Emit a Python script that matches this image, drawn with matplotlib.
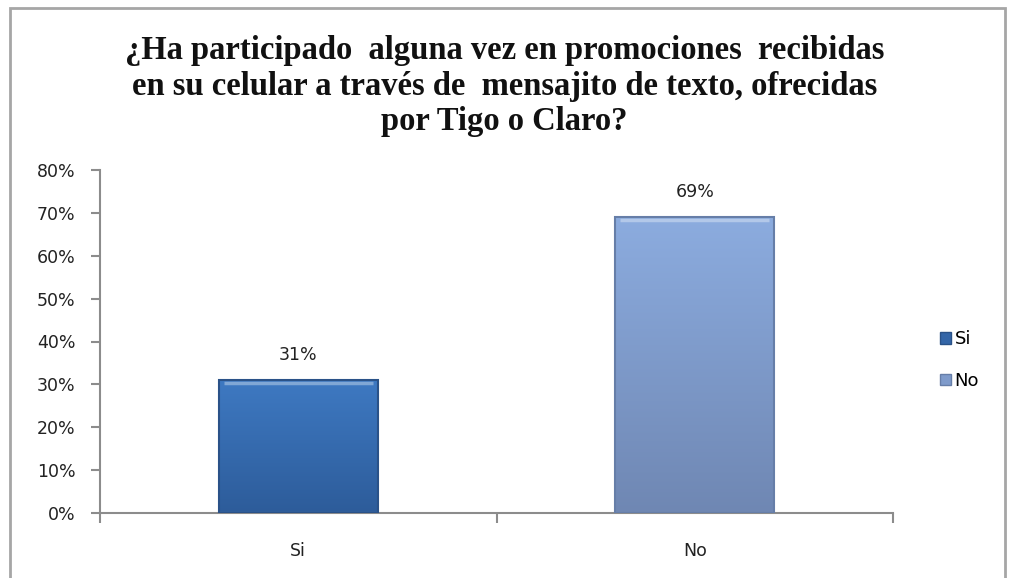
import matplotlib
matplotlib.use("Agg")
import matplotlib.pyplot as plt
import numpy as np
from matplotlib.patches import Rectangle, Patch
from matplotlib.colors import LinearSegmentedColormap

categories = ["Si", "No"]
values = [0.31, 0.69]
value_labels = ["31%", "69%"]
yticks = [0, 0.1, 0.2, 0.3, 0.4, 0.5, 0.6, 0.7, 0.8]
ytick_labels = ["0%", "10%", "20%", "30%", "40%", "50%", "60%", "70%", "80%"]
title = ("¿Ha participado  alguna vez en promociones  recibidas\n"
         "en su celular a través de  mensajito de texto, ofrecidas\n"
         "por Tigo o Claro?")

top_colors = ["#3e79c2", "#8cacdf"]
bot_colors = ["#2d5c9a", "#6f87b3"]
edge_colors = ["#2a5288", "#667ea8"]
legend_colors = ["#3466a8", "#7f9bcb"]

W, H = 1009, 578
fig = plt.figure(figsize=(W / 100, H / 100), dpi=100)
fig.patch.set_facecolor("white")

# chart border
fig.patches.append(Rectangle((10 / W, -0.02), 995 / W, 1.02 - 8 / H,
                             transform=fig.transFigure, fill=False,
                             edgecolor="#a6a6a6", linewidth=2.0))

ax = fig.add_axes([100 / W, 1 - 513 / H, 793 / W, (513 - 170) / H])
x = np.arange(len(categories))
bars = ax.bar(x, values, width=0.4, color="none", edgecolor="none", zorder=2)

for i, b in enumerate(bars):
    cmap = LinearSegmentedColormap.from_list("g", [bot_colors[i], top_colors[i]])
    grad = np.linspace(0, 1, 256).reshape(-1, 1)
    x0, w, h = b.get_x(), b.get_width(), b.get_height()
    ax.imshow(grad, extent=(x0, x0 + w, 0, h), origin="lower", cmap=cmap,
              aspect="auto", zorder=2)
    ax.add_patch(Rectangle((x0, 0), w, h, fill=False, edgecolor=edge_colors[i],
                           linewidth=1.5, zorder=3))
    # light top bevel
    ax.plot([x0 + 0.012, x0 + w - 0.012], [h - 0.006, h - 0.006],
            color="white", alpha=0.35, linewidth=2.5, zorder=3,
            solid_capstyle="butt")
    ax.text(b.get_x() + w / 2, h + 0.037, value_labels[i], ha="center",
            va="bottom", fontsize=12.5, color="#222222")

ax.set_xlim(-0.5, len(categories) - 0.5)
ax.set_ylim(0, 0.8)
ax.set_yticks(yticks)
ax.set_yticklabels(ytick_labels, fontsize=12.5, color="#222222")
ax.set_xticks(x)
ax.set_xticklabels(categories, fontsize=12.5, color="#222222")
ax.set_xticks(np.arange(-0.5, len(categories)), minor=True)
ax.tick_params(axis="x", which="major", length=0, pad=21)
ax.tick_params(axis="x", which="minor", length=7, width=1.5, color="#8c8c8c",
               direction="out")
ax.tick_params(axis="y", length=6.5, width=1.5, color="#8c8c8c", pad=11)
for s in ["top", "right"]:
    ax.spines[s].set_visible(False)
for s in ["left", "bottom"]:
    ax.spines[s].set_color("#8c8c8c")
    ax.spines[s].set_linewidth(1.5)

handles = [Patch(facecolor=legend_colors[i], edgecolor=edge_colors[i],
                 label=categories[i]) for i in range(len(categories))]
fig.legend(handles=handles, loc="center left",
           bbox_to_anchor=(924 / W, 1 - 360 / H), frameon=False,
           fontsize=13, handlelength=0.6, handleheight=0.6,
           handletextpad=0.2, labelspacing=1.3)

fig.text(0.5, 1 - 86 / H, title, ha="center", va="center",
         fontfamily="Liberation Serif", fontweight="bold", fontsize=23.5,
         linespacing=1.2, color="#111111")

fig.savefig("out.png", dpi=100)
